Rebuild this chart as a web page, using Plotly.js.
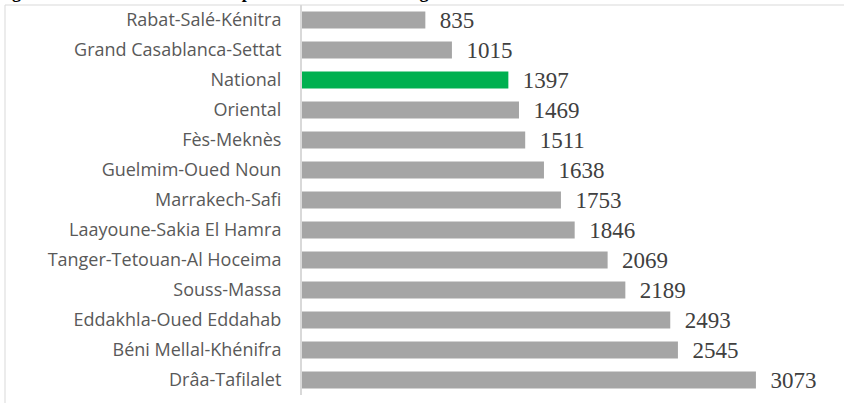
<!DOCTYPE html>
<html>
<head>
<meta charset="utf-8">
<script src="https://cdn.plot.ly/plotly-3.0.1.min.js"></script>
<style>
html,body{margin:0;padding:0;background:#fff;}
#chart{width:844px;height:403px;}
</style>
</head>
<body>
<div id="chart"></div>
<script>
var regions = ["Rabat-Salé-Kénitra","Grand Casablanca-Settat","National","Oriental","Fès-Meknès","Guelmim-Oued Noun","Marrakech-Safi","Laayoune-Sakia El Hamra","Tanger-Tetouan-Al Hoceima","Souss-Massa","Eddakhla-Oued Eddahab","Béni Mellal-Khénifra","Drâa-Tafilalet"];
var habitantsParMedecin = [835,1015,1397,1469,1511,1638,1753,1846,2069,2189,2493,2545,3073];
var highlight = "National";
var titleText = "Figure 11 : Nombre d'habitants par médecin selon la région";

var colors = regions.map(function(r){ return r === highlight ? "#00B050" : "#A5A5A5"; });
var labels = habitantsParMedecin.map(function(v){ return "\u00A0\u00A0" + v; });

var W = 844, H = 403;
var ml = 302, mr = 25, mt = 5, mb = 8;
var pw = W - ml - mr, ph = H - mt - mb;

var trace = {
  type: "bar",
  orientation: "h",
  y: regions,
  x: habitantsParMedecin,
  marker: {color: colors},
  text: labels,
  textposition: "outside",
  constraintext: "none",
  cliponaxis: false,
  textfont: {family: "Liberation Serif, serif", size: 23, color: "#404040"},
  hoverinfo: "x+y"
};

var layout = {
  width: W, height: H,
  margin: {l: ml, r: mr, t: mt, b: mb, pad: 0},
  paper_bgcolor: "#ffffff",
  plot_bgcolor: "#ffffff",
  showlegend: false,
  bargap: 0.43,
  xaxis: {range: [0, 3500], showgrid: false, zeroline: false, showticklabels: false, ticks: "", showline: false, fixedrange: true},
  yaxis: {autorange: "reversed", type: "category", showgrid: false, zeroline: false,
          showline: true, linecolor: "#D9D9D9", linewidth: 2, ticks: "", ticklabelstandoff: 15,
          tickfont: {family: "Open Sans, sans-serif", size: 18, color: "#595959"}, fixedrange: true},
  shapes: [{
    type: "rect", xref: "paper", yref: "paper",
    x0: (5 - ml) / pw, x1: 1.2, y0: -0.2, y1: 1,
    line: {color: "#D9D9D9", width: 1}, layer: "below"
  }],
  annotations: [{
    text: "<b>" + titleText + "</b>",
    xref: "paper", yref: "paper", x: (-6 - ml) / pw, y: 1 + 1 / ph,
    xanchor: "left", yanchor: "bottom", showarrow: false,
    font: {family: "Liberation Serif, serif", size: 18, color: "#000000"}
  }]
};

Plotly.newPlot("chart", [trace], layout, {displayModeBar: false, staticPlot: true});
</script>
</body>
</html>
